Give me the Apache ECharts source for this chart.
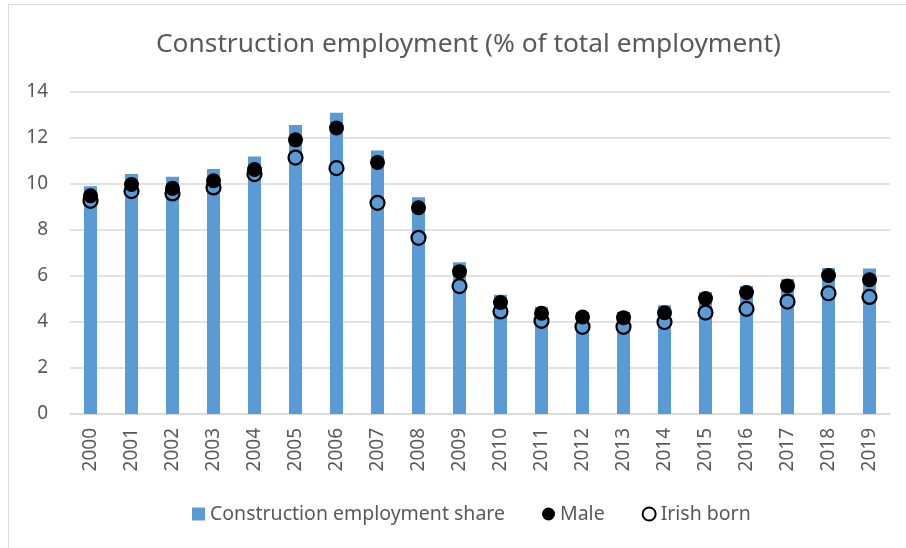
<!DOCTYPE html>
<html>
<head>
<meta charset="utf-8">
<script src="https://cdn.jsdelivr.net/npm/echarts@6/dist/echarts.min.js"></script>
<style>
html,body{margin:0;padding:0;background:#fff;}
#wrap{position:absolute;left:8px;top:4px;width:920px;height:560px;border:1px solid #d9d9d9;box-sizing:border-box;}
#chart{position:absolute;left:0;top:0;width:906px;height:548px;}
</style>
</head>
<body>
<div id="wrap"></div>
<div id="chart"></div>
<script>
const years = ['2000','2001','2002','2003','2004','2005','2006','2007','2008','2009','2010','2011','2012','2013','2014','2015','2016','2017','2018','2019'];
const constructionShare = [9.9,10.43,10.31,10.65,11.2,12.56,13.1,11.46,9.42,6.6,5.19,4.66,4.43,4.44,4.73,5.29,5.58,5.87,6.35,6.33];
const male = [9.49,9.98,9.81,10.14,10.63,11.92,12.44,10.94,8.97,6.19,4.85,4.38,4.22,4.19,4.4,5.02,5.28,5.57,6.02,5.84];
const irishBorn = [9.27,9.69,9.59,9.85,10.43,11.15,10.69,9.18,7.66,5.56,4.46,4.05,3.79,3.79,4.0,4.41,4.57,4.89,5.25,5.09];
const yTicks = [0,2,4,6,8,10,12,14];

const chart = echarts.init(document.getElementById('chart'), null, {renderer:'canvas'});
const font = 'Noto Sans';
chart.setOption({
  backgroundColor: 'transparent',
  animation: false,
  title: {
    text: 'Construction employment (% of total employment)',
    left: 151, top: 27,
    textStyle: {fontFamily: font, fontSize: 26.3, fontWeight: 'normal', color: '#595959'}
  },
  legend: {
    top: 499, left: 187,
    itemWidth: 13, itemHeight: 13, itemGap: 37,
    textStyle: {fontFamily: font, fontSize: 19.5, color: '#595959'},
    data: [
      {name: 'Construction employment share', icon: 'rect'},
      {name: 'Male', icon: 'circle'},
      {name: 'Irish born', icon: 'circle', itemStyle: {color: '#fff', borderColor: '#000', borderWidth: 2}}
    ]
  },
  grid: {left: 70, right: 16, top: 92, bottom: 134},
  xAxis: {
    type: 'category', data: years,
    axisLine: {lineStyle: {color: '#d9d9d9', width: 1.5}},
    axisTick: {show: false},
    axisLabel: {rotate: 90, fontFamily: font, fontSize: 19, color: '#595959', margin: 14}
  },
  yAxis: {
    type: 'value', min: yTicks[0], max: yTicks[yTicks.length-1], interval: 2,
    axisLine: {show: false}, axisTick: {show: false},
    splitLine: {lineStyle: {color: '#d9d9d9', width: 1.5}},
    axisLabel: {fontFamily: font, fontSize: 19, color: '#595959', margin: 22}
  },
  series: [
    {name: 'Construction employment share', type: 'bar', data: constructionShare, barWidth: 13,
     itemStyle: {color: '#5B9BD5'}, z: 1},
    {name: 'Male', type: 'scatter', data: male, symbol: 'circle', symbolSize: 15,
     itemStyle: {color: '#000', opacity: 1}, z: 3},
    {name: 'Irish born', type: 'scatter', data: irishBorn, symbol: 'circle', symbolSize: 14,
     itemStyle: {color: 'rgba(0,0,0,0)', borderColor: '#000', borderWidth: 2.2, opacity: 1}, z: 2}
  ]
});
</script>
</body>
</html>
